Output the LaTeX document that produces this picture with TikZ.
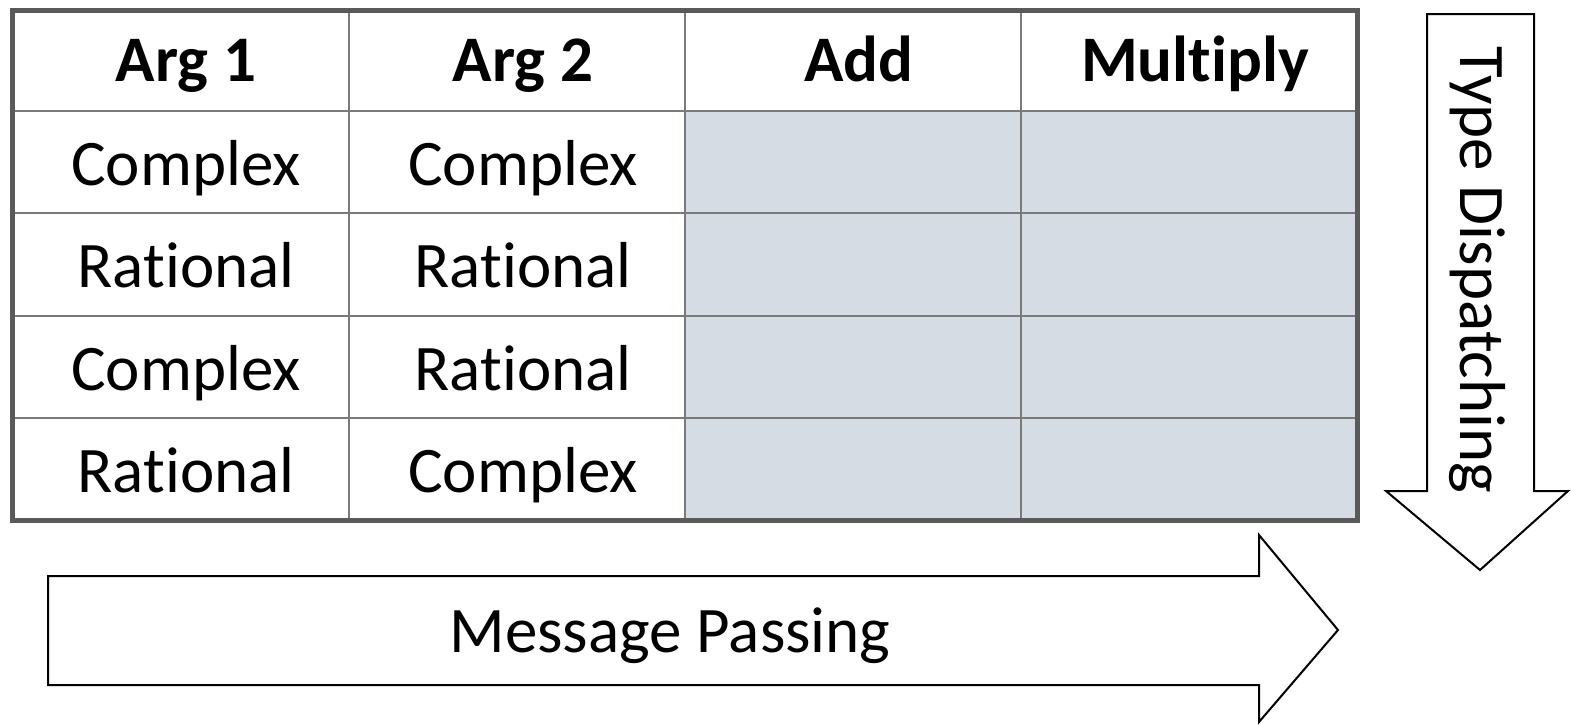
\documentclass[tikz,border=0pt]{standalone}
\usepackage{fontspec}
\setmainfont{Carlito}[Ligatures=NoCommon]
\usepackage{tikz}
\usetikzlibrary{positioning}

\definecolor{cellblue}{HTML}{D6DCE4}
\definecolor{gridgray}{HTML}{7A7A7A}
\definecolor{framegray}{HTML}{5A5A5A}

\tikzset{
  cell/.style={anchor=base, inner sep=0pt, font=\fontsize{32.5}{38}\selectfont},
  head/.style={cell, font=\fontsize{32.5}{38}\selectfont\bfseries},
  bigarrow/.style={draw=black, line width=1pt, fill=white, line join=miter}
}

\begin{document}
\begin{tikzpicture}[x=0.5pt, y=-0.5pt]
  \useasboundingbox (0,0) rectangle (1571,724);

  % table
  \fill[cellblue] (685,111) rectangle (1357,520);
  \draw[gridgray, line width=1pt] (349,10) -- (349,520);
  \draw[gridgray, line width=1pt] (685,10) -- (685,520);
  \draw[gridgray, line width=1pt] (1021,10) -- (1021,520);
  \draw[gridgray, line width=1pt] (12,111) -- (1357,111);
  \draw[gridgray, line width=1pt] (12,213) -- (1357,213);
  \draw[gridgray, line width=1pt] (12,316) -- (1357,316);
  \draw[gridgray, line width=1pt] (12,418) -- (1357,418);
  \draw[framegray, line width=2.5pt] (12,10) rectangle (1357,520);

  \node[head] at (186,81) (arg1) {Arg 1};
  \node[head] at (523,81) (arg2) {Arg 2};
  \node[head] at (859,81) (add) {Add};
  \node[head] at (1195,81) (multiply) {Multiply};

  \node[cell] at (186,185) (a1-complex) {Complex};
  \node[cell] at (523,185) (a2-complex) {Complex};
  \node[cell] at (186,287) (a1-rational) {Rational};
  \node[cell] at (523,287) (a2-rational) {Rational};
  \node[cell] at (186,390) (a1-complex-b) {Complex};
  \node[cell] at (523,390) (a2-rational-b) {Rational};
  \node[cell] at (186,492) (a1-rational-b) {Rational};
  \node[cell] at (523,492) (a2-complex-b) {Complex};

  % arrows
  \draw[bigarrow] (48,576) -- (1259,576) -- (1259,535) -- (1338,630) -- (1259,722)
    -- (1259,685) -- (48,685) -- cycle;
  \node[cell] at (670,652) (msg-passing) {Message Passing};

  \draw[bigarrow] (1427,14) -- (1534,14) -- (1534,491) -- (1568,491) -- (1480,570)
    -- (1386,491) -- (1427,491) -- cycle;
  \node[cell, rotate=-90] at (1460,270) (type-dispatch) {Type Dispatching};
\end{tikzpicture}
\end{document}
